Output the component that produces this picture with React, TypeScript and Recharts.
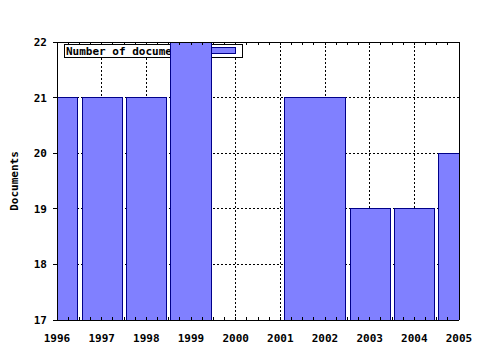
import React from 'react';
import { ComposedChart, XAxis, YAxis, CartesianGrid, ReferenceArea } from 'recharts';

const years = [1996, 1997, 1998, 1999, 2000, 2001, 2002, 2003, 2004, 2005];
const barStart = [1995.55, 1996.56, 1997.55, 1998.55, 2001.1, 2002.56, 2003.55, 2004.55];
const barEnd = [1996.45, 1997.46, 1998.45, 1999.46, 2002.45, 2003.46, 2004.46, 2005.45];
const docCounts = [21, 21, 21, 22, 21, 19, 19, 20];
const yTicks = [17, 18, 19, 20, 21, 22];
const seriesName = 'Number of documents';
const yTitle = 'Documents';

const rows = docCounts.map((v, i) => ({ start: barStart[i], end: barEnd[i], value: v }));

const minorTicks: number[] = [];
years.forEach((y, i) => {
  minorTicks.push(y);
  if (i < years.length - 1) {
    minorTicks.push(y + 0.25, y + 0.5, y + 0.75);
  }
});
const innerYears = years.slice(1, -1);
const innerY = yTicks.slice(1, -1);

const FONT = '"DejaVu Sans Mono", monospace';
const FILL = '#8080ff';
const EDGE = '#000088';

const isMajor = (v: number) => Math.abs(v - Math.round(v)) < 1e-6;

const BottomTick = (props: any) => {
  const { x, y, payload } = props;
  const v = payload.value as number;
  return (
    <g>
      <line x1={x} x2={x} y1={y} y2={y - 3} stroke="#000" shapeRendering="crispEdges" />
      {isMajor(v) && (
        <text x={x} y={y + 22} textAnchor="middle" fontFamily={FONT} fontWeight="bold" fontSize={11} fill="#000">
          {String(Math.round(v))}
        </text>
      )}
    </g>
  );
};

const TopTick = (props: any) => {
  const { x, y } = props;
  return <line x1={x} x2={x} y1={y} y2={y + 3} stroke="#000" shapeRendering="crispEdges" />;
};

const LegendBox = () => (
  <g shapeRendering="crispEdges">
    <rect x={64.5} y={44.5} width={178} height={13} fill="#fff" stroke="#000" />
    <text x={66} y={55} fontFamily={FONT} fontWeight="bold" fontSize={11} fill="#000" shapeRendering="auto">
      {seriesName}
    </text>
    <rect x={211.5} y={47.5} width={24} height={6} fill={FILL} stroke={EDGE} />
  </g>
);

const axisLineStyle = { stroke: '#000', shapeRendering: 'crispEdges' } as any;

export default function App() {
  return (
    <div style={{ position: 'absolute', left: 0, top: 0, width: 480, height: 350, background: '#fff' }}>
      <ComposedChart width={480} height={350} data={rows} margin={{ top: 41, right: 20, bottom: 0, left: 0 }}>
        <CartesianGrid
          stroke="#000"
          strokeDasharray="2 2"
          verticalValues={innerYears}
          horizontalValues={innerY}
          shapeRendering="crispEdges"
        />
        <XAxis
          xAxisId={0}
          type="number"
          dataKey="start"
          domain={[1996, 2005]}
          allowDataOverflow
          ticks={minorTicks}
          interval={0}
          height={30}
          tickSize={0}
          tickMargin={0}
          tickLine={false}
          axisLine={axisLineStyle}
          tick={<BottomTick />}
        />
        <XAxis
          xAxisId="top"
          orientation="top"
          type="number"
          dataKey="start"
          domain={[1996, 2005]}
          allowDataOverflow
          ticks={minorTicks}
          interval={0}
          height={1}
          tickSize={0}
          tickMargin={0}
          tickLine={false}
          axisLine={axisLineStyle}
          tick={<TopTick />}
        />
        <YAxis
          yAxisId={0}
          type="number"
          domain={[17, 22]}
          allowDataOverflow
          ticks={yTicks}
          interval={0}
          width={57}
          tickSize={4}
          tickMargin={6}
          tickLine={axisLineStyle}
          axisLine={axisLineStyle}
          tick={{ fill: '#000', fontFamily: FONT, fontWeight: 'bold', fontSize: 11 }}
          label={{
            content: () => (
              <text
                x={14}
                y={181}
                transform="rotate(-90 14 181)"
                textAnchor="middle"
                dominantBaseline="central"
                fontFamily={FONT}
                fontWeight="bold"
                fontSize={11}
                fill="#000"
              >
                {yTitle}
              </text>
            ),
          }}
        />
        <YAxis
          yAxisId="right"
          orientation="right"
          type="number"
          domain={[17, 22]}
          width={1}
          tick={false}
          tickLine={false}
          axisLine={axisLineStyle}
        />
        <LegendBox />
        {rows.map((r, i) => (
          <ReferenceArea
            key={i}
            xAxisId={0}
            yAxisId={0}
            x1={r.start}
            x2={r.end}
            y1={17}
            y2={r.value}
            fill={FILL}
            fillOpacity={1}
            stroke={EDGE}
            strokeWidth={1}
            shapeRendering="crispEdges"
            ifOverflow="hidden"
          />
        ))}
      </ComposedChart>
    </div>
  );
}
